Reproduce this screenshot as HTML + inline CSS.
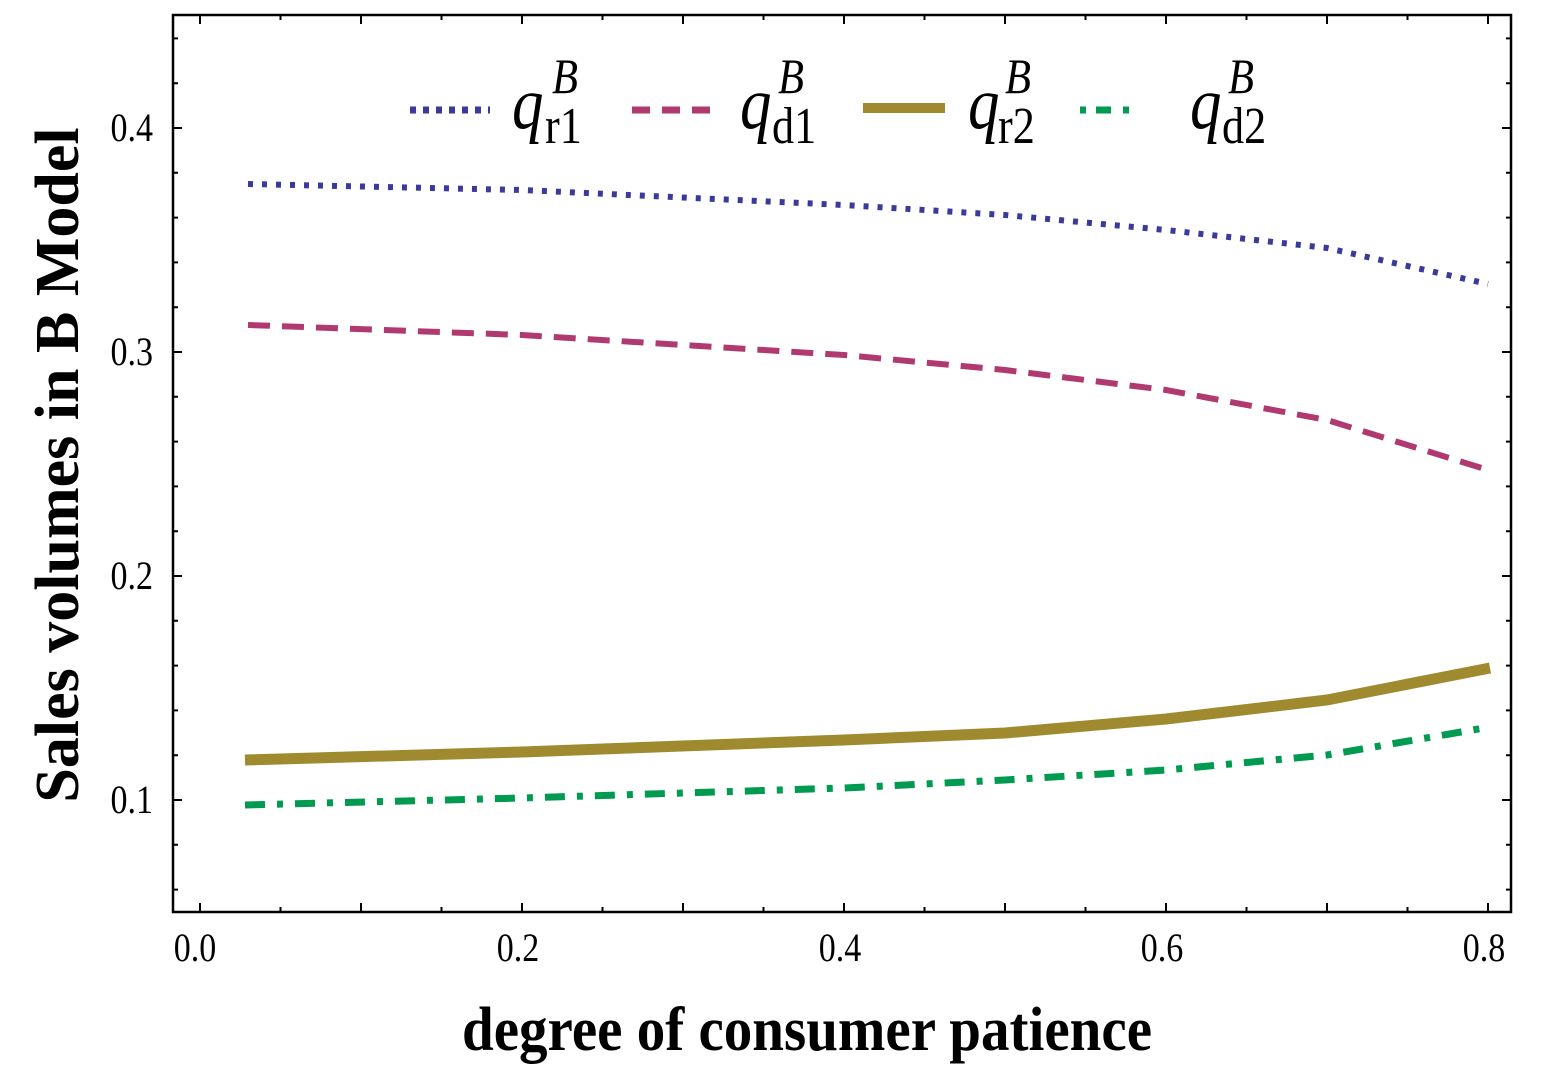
<!DOCTYPE html>
<html><head><style>body{margin:0;background:#fff}svg{display:block}</style></head><body>
<svg width="1545" height="1086" viewBox="0 0 1545 1086" xmlns="http://www.w3.org/2000/svg">
<rect width="1545" height="1086" fill="#fff"/>
<g stroke="#000" stroke-width="2.5" fill="none">
<rect x="173" y="15" width="1338" height="897"/>
</g>
<g stroke="#000" stroke-width="2">
<path d="M200 912v-9M361 912v-9M522 912v-9M683 912v-9M844 912v-9M1005 912v-9M1166 912v-9M1327 912v-9M1488 912v-9
M200 15v9M361 15v9M522 15v9M683 15v9M844 15v9M1005 15v9M1166 15v9M1327 15v9M1488 15v9"/>
<path d="M280.5 912v-5M441.5 912v-5M602.5 912v-5M763.5 912v-5M924.5 912v-5M1085.5 912v-5M1246.5 912v-5M1407.5 912v-5
M280.5 15v5M441.5 15v5M602.5 15v5M763.5 15v5M924.5 15v5M1085.5 15v5M1246.5 15v5M1407.5 15v5"/>
<path d="M173 128h9M173 352h9M173 576h9M173 800h9M1511 128h-9M1511 352h-9M1511 576h-9M1511 800h-9"/>
<path d="M173 38.4h5M173 83.2h5M173 172.8h5M173 217.6h5M173 262.4h5M173 307.2h5M173 396.8h5M173 441.6h5M173 486.4h5M173 531.2h5M173 620.8h5M173 665.6h5M173 710.4h5M173 755.2h5M173 844.8h5M173 889.6h5
M1511 38.4h-5M1511 83.2h-5M1511 172.8h-5M1511 217.6h-5M1511 262.4h-5M1511 307.2h-5M1511 396.8h-5M1511 441.6h-5M1511 486.4h-5M1511 531.2h-5M1511 620.8h-5M1511 665.6h-5M1511 710.4h-5M1511 755.2h-5M1511 844.8h-5M1511 889.6h-5"/>
</g>
<g font-family="Liberation Serif, serif" font-size="40" fill="#000">
<g text-anchor="middle">
<text transform="translate(195 961) scale(0.85 1)">0.0</text>
<text transform="translate(518 961) scale(0.85 1)">0.2</text>
<text transform="translate(840 961) scale(0.85 1)">0.4</text>
<text transform="translate(1162 961) scale(0.85 1)">0.6</text>
<text transform="translate(1484 961) scale(0.85 1)">0.8</text>
</g>
<g text-anchor="end">
<text transform="translate(153 141) scale(0.85 1)">0.4</text>
<text transform="translate(153 365) scale(0.85 1)">0.3</text>
<text transform="translate(153 589) scale(0.85 1)">0.2</text>
<text transform="translate(153 813) scale(0.85 1)">0.1</text>
</g>
</g>
<text font-family="Liberation Serif, serif" font-weight="bold" font-size="62" text-anchor="middle" transform="translate(807 1050) scale(0.92 1)">degree  of  consumer  patience</text>
<text font-family="Liberation Serif, serif" font-weight="bold" font-size="62" text-anchor="middle" transform="translate(78 465) rotate(-90) scale(1.0 1)">Sales volumes in B Model</text>
<g fill="none" stroke-width="6">
<polyline stroke="#3a3a9c" stroke-dasharray="5 9" points="248,184 522,190 844,205 1005,215 1166,230 1327,248 1488,284"/>
<polyline stroke="#b03a70" stroke-dasharray="22 12" points="248,325 522,335 844,355 1005,370 1166,390 1327,420 1488,470"/>
<polyline stroke="#a08a30" stroke-width="11" points="245,760 522,752 844,740 1005,733 1166,719 1327,700 1490,668"/>
<polyline stroke="#009a50" stroke-width="7" stroke-dasharray="20 12 6 12" points="245,805 522,798 844,788 1005,780 1166,770 1327,755 1490,727"/>
</g>
<g>
<line x1="410" y1="110" x2="490" y2="110" stroke="#3a3a9c" stroke-width="7" stroke-dasharray="6 7"/>
<line x1="632" y1="110" x2="712" y2="110" stroke="#b03a70" stroke-width="7" stroke-dasharray="18 12"/>
<rect x="863" y="103" width="82" height="10" fill="#a08a30"/>
<line x1="1080" y1="110" x2="1156" y2="110" stroke="#009a50" stroke-width="7" stroke-dasharray="6 10 15 12 6 50"/>
</g>
<g font-family="Liberation Serif, serif" font-size="74" font-style="italic" fill="#000">
<text transform="translate(512 128) scale(0.85 1)">q</text>
<text transform="translate(740 128) scale(0.85 1)">q</text>
<text transform="translate(968 128) scale(0.85 1)">q</text>
<text transform="translate(1190 128) scale(0.85 1)">q</text>
<g font-size="50">
<text transform="translate(552 93) scale(0.85 1)">B</text>
<text transform="translate(778 93) scale(0.85 1)">B</text>
<text transform="translate(1005 93) scale(0.85 1)">B</text>
<text transform="translate(1228 93) scale(0.85 1)">B</text>
</g>
<g font-size="52" font-style="normal">
<text transform="translate(545 143) scale(0.85 1)">r1</text>
<text transform="translate(772 143) scale(0.85 1)">d1</text>
<text transform="translate(998 143) scale(0.85 1)">r2</text>
<text transform="translate(1222 143) scale(0.85 1)">d2</text>
</g>
</g>
</svg>
</body></html>
